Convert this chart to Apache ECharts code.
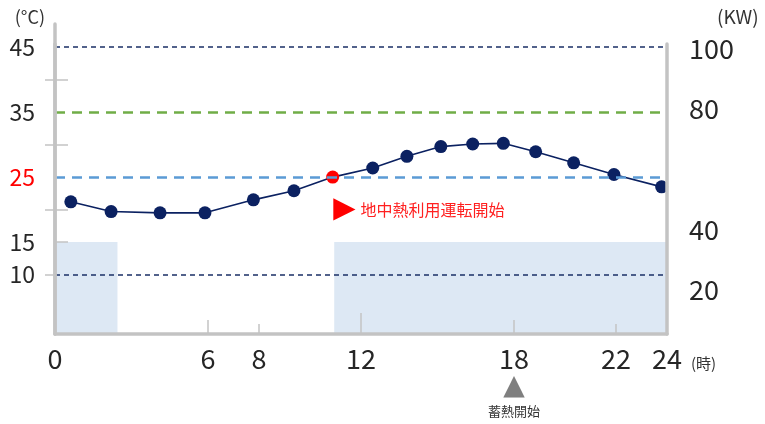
<!DOCTYPE html>
<html><head><meta charset="utf-8">
<script src="https://cdn.jsdelivr.net/npm/echarts@6/dist/echarts.min.js"></script>
<style>html,body{margin:0;padding:0;background:#fff}#c{width:765px;height:424px}</style>
</head><body><div id="c"></div>
<script>
// ---- data ----
const hours = [0.62, 2.2, 4.12, 5.88, 7.78, 9.37, 10.89, 12.46, 13.8, 15.13, 16.38, 17.58, 18.85, 20.34, 21.92, 23.79];
const temps = [21.2, 19.7, 19.5, 19.5, 21.5, 22.9, 25, 26.4, 28.2, 29.7, 30.1, 30.2, 28.9, 27.2, 25.4, 23.5];
const startIndex = 6;                       // red point: 地中熱利用運転開始
const startLabel = '地中熱利用運転開始';
const storageHour = 18;
const storageLabel = '蓄熱開始';
const xTickLabels = [0, 6, 8, 12, 18, 22, 24];
const leftTickLabels = [45, 35, 25, 15, 10];
const rightTickLabels = [100, 80, 40, 20];
const refLines = [
  {value: 45, color: '#1a2f66', width: 1.5, dash: [5, 4]},
  {value: 35, color: '#70ad47', width: 2.5, dash: [10, 7]},
  {value: 25, color: '#5b9bd5', width: 2.5, dash: [10, 7]},
  {value: 10, color: '#1a2f66', width: 1.5, dash: [5, 4]}
];
const shadeTop = 15;
const shadeRanges = [[0, 2.45], [10.95, 24]];
// axis ranges
const tMin = 0.85, tMax = 45.49, tMaxTall = 48.56;
const kwMin = 5.44, kwMax = 101.6;

const FONT = '"Noto Sans CJK JP", "Noto Sans", sans-serif';
const GRAY = '#c3c3c3';
const NAVY = '#0b2161';

const lineData = hours.map((h, i) => {
  const item = {value: [h, temps[i]]};
  if (i === startIndex) {
    item.itemStyle = {color: '#ff0000'};
    item.label = {
      show: true, position: [7, 39], align: 'left', verticalAlign: 'middle',
      formatter: '{tri|▶}{t|' + startLabel + '}',
      rich: {
        tri: {fontFamily: 'DejaVu Sans', fontSize: 29, color: '#ff0000'},
        t: {fontFamily: FONT, fontSize: 16, color: '#ff2020', padding: [0, 0, 0, 5]}
      }
    };
  }
  return item;
});

const tickStyle = {color: GRAY, width: 1.5};
const chart = echarts.init(document.getElementById('c'));
chart.setOption({
  animation: false,
  grid: [
    {left: 55, top: 44, width: 612, height: 290},
    {left: 55, top: 24, width: 612, height: 310}
  ],
  xAxis: [
    {type: 'value', gridIndex: 0, min: 0, max: 24, z: 5, position: 'bottom',
     axisLine: {show: true, onZero: false, lineStyle: {color: GRAY, width: 3.5}},
     splitLine: {show: false},
     axisTick: {show: true, inside: true, length: 21, customValues: [12], lineStyle: tickStyle},
     axisLabel: {show: true, customValues: xTickLabels, margin: 10, fontSize: 27, color: '#262626', fontFamily: FONT,
       lineHeight: 30,
       formatter: v => v === storageHour ? v + '\n{tri|▲}\n{note|' + storageLabel + '}' : String(v),
       rich: {
         tri: {fontFamily: 'DejaVu Sans', fontSize: 28, color: '#7f7f7f', lineHeight: 26},
         note: {fontFamily: FONT, fontSize: 13, color: '#333', lineHeight: 22}
       }},
     name: '(時)', nameLocation: 'end', nameGap: 24,
     nameTextStyle: {fontFamily: FONT, fontSize: 15, color: '#333', align: 'left', verticalAlign: 'top', padding: [22, 0, 0, 0]}
    },
    {type: 'value', gridIndex: 0, min: 0, max: 24, z: 5, position: 'bottom',
     axisLine: {show: false, onZero: false}, splitLine: {show: false}, axisLabel: {show: false},
     axisTick: {show: true, inside: true, length: 14, customValues: [6, 18], lineStyle: tickStyle}},
    {type: 'value', gridIndex: 0, min: 0, max: 24, z: 5, position: 'bottom',
     axisLine: {show: false, onZero: false}, splitLine: {show: false}, axisLabel: {show: false},
     axisTick: {show: true, inside: true, length: 10, customValues: [8, 22], lineStyle: tickStyle}},
    {type: 'value', gridIndex: 1, min: 0, max: 24, show: false}
  ],
  yAxis: [
    {type: 'value', gridIndex: 0, min: tMin, max: tMax, z: 5, position: 'left',
     axisLine: {show: true, onZero: false, lineStyle: {color: GRAY, width: 3.5}},
     splitLine: {show: false},
     axisTick: {show: true, inside: true, length: 13, customValues: [40, 30, 20, 15], lineStyle: tickStyle},
     axisLabel: {show: true, customValues: leftTickLabels, margin: 20, fontSize: 23, fontFamily: FONT,
       color: v => (Number(v) === 25 ? '#ff0000' : '#262626')}
    },
    {type: 'value', gridIndex: 0, min: kwMin, max: kwMax, z: 5, position: 'right',
     axisLine: {show: true, onZero: false, lineStyle: {color: GRAY, width: 3.5}},
     splitLine: {show: false}, axisTick: {show: false},
     axisLabel: {show: true, customValues: rightTickLabels, margin: 22, fontSize: 27, fontFamily: FONT, color: '#262626'},
     name: '(KW)', nameLocation: 'end', nameGap: 27,
     nameTextStyle: {fontFamily: FONT, fontSize: 19, color: '#333', align: 'left', verticalAlign: 'middle', padding: [0, 0, 0, 50]}
    },
    {type: 'value', gridIndex: 1, min: tMin, max: tMaxTall, z: 5, position: 'left',
     axisLine: {show: true, onZero: false, lineStyle: {color: GRAY, width: 3.5}},
     splitLine: {show: false}, axisLabel: {show: false},
     axisTick: {show: true, inside: false, length: 10, customValues: [40, 30, 20, 10], lineStyle: tickStyle},
     name: '(°C)', nameLocation: 'end', nameGap: 7,
     nameTextStyle: {fontFamily: FONT, fontSize: 18, color: '#333', align: 'right', verticalAlign: 'middle', padding: [0, 10, 0, 0]}
    }
  ],
  series: [
    {
      type: 'line', xAxisIndex: 0, yAxisIndex: 0, z: 3,
      data: lineData,
      symbol: 'circle', symbolSize: 13,
      lineStyle: {color: NAVY, width: 1.6},
      itemStyle: {color: NAVY},
      markArea: {
        silent: true, z: 1,
        itemStyle: {color: '#dde8f4'},
        data: shadeRanges.map(r => [{xAxis: r[0], yAxis: tMin}, {xAxis: r[1], yAxis: shadeTop}])
      },
      markLine: {
        silent: true, symbol: 'none', label: {show: false},
        data: refLines.map(l => ({yAxis: l.value, lineStyle: {color: l.color, width: l.width, type: l.dash}}))
      }
    }
  ]
});
</script></body></html>
